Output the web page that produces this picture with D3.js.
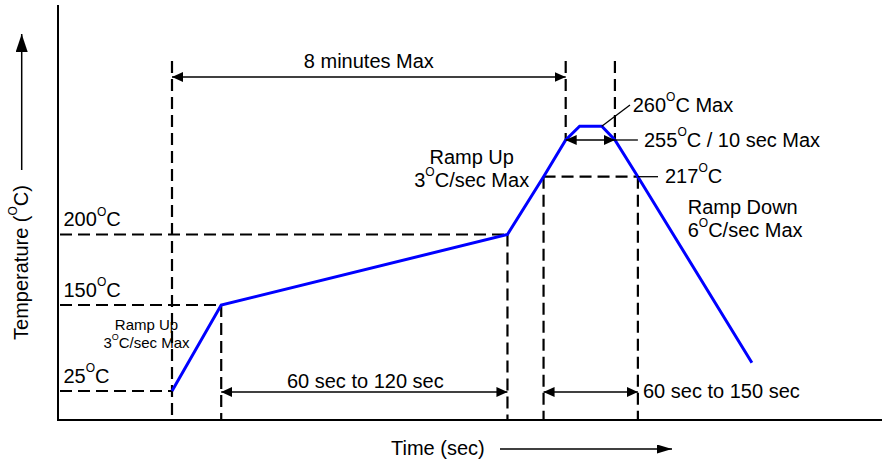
<!DOCTYPE html>
<html><head><meta charset="utf-8">
<script src="https://cdn.jsdelivr.net/npm/d3@7"></script>
<style>
body{margin:0;background:#fff}
svg{display:block}
text{font-family:"Liberation Sans",Arial,Helvetica,sans-serif;fill:#000}
</style>
</head><body>
<svg id="c" width="882" height="463"></svg>
<script>
// ---- data (schematic reflow profile) ----
const profileTime = [0, 60, 409, 453, 480, 497, 524, 540, 568, 707];   // s (schematic)
const profileTemp = [25, 150, 200, 217, 255, 260, 260, 255, 217, 66];  // °C
const tempKeys    = [25, 150, 200, 217, 255, 260];                     // schematic temperature breakpoints
const tickTemps   = [25, 150, 200];                                    // labelled levels on the left
const totalTime   = 480;                                               // 8 minutes
const preheatSpan = [60, 409];
const liquidSpan  = [453, 568];
const peakSpan    = [480, 540];
const peakLeader  = 524;

// ---- layout ----
const W = 882, H = 463;
const axisX = 58, axisY = 420, axisTop = 5;
const guideTop = 61, topArrowY = 77;

const svg = d3.select("#c");

const x = d3.scaleLinear().domain([0, totalTime]).range([172, 565.7]);
// schematic (not to scale) temperature axis -> polylinear scale
const y = d3.scaleLinear().domain(tempKeys).range([391, 305, 234.5, 176.7, 140, 126.3]);

// markers
const defs = svg.append("defs");
defs.append("marker").attr("id","ah")
  .attr("viewBox","0 0 11 10").attr("refX",11).attr("refY",5)
  .attr("markerWidth",11).attr("markerHeight",10)
  .attr("markerUnits","userSpaceOnUse").attr("orient","auto-start-reverse")
  .append("path").attr("d","M0,0L11,5L0,10Z").attr("fill","#000");
defs.append("marker").attr("id","ahBig")
  .attr("viewBox","0 0 18 12").attr("refX",18).attr("refY",6)
  .attr("markerWidth",18).attr("markerHeight",12)
  .attr("markerUnits","userSpaceOnUse").attr("orient","auto")
  .append("path").attr("d","M0,0L18,6L0,12Z").attr("fill","#000");
defs.append("marker").attr("id","ahT")
  .attr("viewBox","0 0 15 9").attr("refX",15).attr("refY",4.5)
  .attr("markerWidth",15).attr("markerHeight",9)
  .attr("markerUnits","userSpaceOnUse").attr("orient","auto")
  .append("path").attr("d","M0,0L15,4.5L0,9Z").attr("fill","#000");

function line(x1,y1,x2,y2,opts={}) {
  const l = svg.append("line").attr("x1",x1).attr("y1",y1).attr("x2",x2).attr("y2",y2)
    .attr("stroke", opts.color || "#000").attr("stroke-width", opts.w || 1.3);
  if (opts.dash) l.attr("stroke-dasharray", opts.dash);
  if (opts.start) l.attr("marker-start", "url(#"+opts.start+")");
  if (opts.end) l.attr("marker-end", "url(#"+opts.end+")");
  return l;
}
function supText(px, py, pre, post, size, anchor) {
  const t = svg.append("text").attr("x",px).attr("y",py)
    .attr("font-size",size).attr("text-anchor",anchor||"start");
  t.append("tspan").text(pre);
  const s = size*0.6, up = size*0.53;
  t.append("tspan").attr("font-size",s).attr("dy",-up).text("O");
  t.append("tspan").attr("dy",up).text(post);
  return t;
}

const dash = "12,6";
const dw = 2.2;

// ---- axes frame ----
line(axisX, axisTop, axisX, axisY, {w:2});
line(axisX-1, axisY, W, axisY, {w:2});

// ---- dashed guides ----
tickTemps.forEach(tp => {
  const endT = profileTime[profileTemp.indexOf(tp)];
  line(axisX+2, y(tp), x(endT), y(tp), {dash, w:dw});
});
line(x(liquidSpan[0]), y(217), x(liquidSpan[1]), y(217), {dash, w:dw});
line(x(0), guideTop, x(0), axisY, {dash, w:dw});
[preheatSpan[0], preheatSpan[1], liquidSpan[0], liquidSpan[1]].forEach(t => {
  const tp = profileTemp[profileTime.indexOf(t)];
  line(x(t), y(tp), x(t), axisY, {dash, w:dw});
});
[peakSpan[0], peakSpan[1]].forEach(t => {
  line(x(t), guideTop, x(t), y(255), {dash, w:dw});
});

// ---- profile ----
const pts = profileTime.map((t,i) => [x(t), y(profileTemp[i])]);
svg.append("path").attr("d", d3.line()(pts))
  .attr("fill","none").attr("stroke","#0000ff").attr("stroke-width",3)
  .attr("stroke-linejoin","miter");

// ---- dimension arrows ----
line(x(0), topArrowY, x(totalTime), topArrowY, {start:"ah", end:"ah"});
svg.append("text").attr("x",(x(0)+x(totalTime))/2).attr("y",68.3)
  .attr("font-size",20).attr("text-anchor","middle").text("8 minutes Max");

line(x(preheatSpan[0]), y(25)+1, x(preheatSpan[1]), y(25)+1, {start:"ah", end:"ah"});
svg.append("text").attr("x",(x(preheatSpan[0])+x(preheatSpan[1]))/2+1).attr("y",388.3)
  .attr("font-size",20).attr("text-anchor","middle").text("60 sec to 120 sec");

line(x(liquidSpan[0]), y(25)+1, x(liquidSpan[1]), y(25)+1, {start:"ah", end:"ah"});
svg.append("text").attr("x",643).attr("y",397.7).attr("font-size",20).text("60 sec to 150 sec");

line(x(peakSpan[0]), y(255), x(peakSpan[1]), y(255), {start:"ah", end:"ah"});
line(x(peakSpan[1]), y(255), x(liquidSpan[1]), y(255));
supText(644, 146.7, "255", "C / 10 sec Max", 20);

line(x(liquidSpan[1]), y(217), 658, y(217));
supText(665, 182.7, "217", "C", 20);

line(x(peakLeader), y(260), 630, 105);
supText(632.7, 111.7, "260", "C Max", 20);

// ---- slope notes ----
svg.append("text").attr("x",471.7).attr("y",164.3).attr("font-size",20)
  .attr("text-anchor","middle").text("Ramp Up");
supText(471.7, 186.7, "3", "C/sec Max", 20, "middle");

svg.append("text").attr("x",687.7).attr("y",214).attr("font-size",20).text("Ramp Down");
supText(687.7, 237.3, "6", "C/sec Max", 20);

svg.append("text").attr("x",146.5).attr("y",330).attr("font-size",15)
  .attr("text-anchor","middle").text("Ramp Up");
supText(146.5, 347.7, "3", "C/sec Max", 15, "middle");

// ---- level labels ----
tickTemps.forEach(tp => supText(63.5, y(tp)-8.3, String(tp), "C", 20));

// ---- axis titles ----
const yt = svg.append("text").attr("transform","translate(27.5,262.5) rotate(-90)")
  .attr("font-size",20).attr("text-anchor","middle");
yt.append("tspan").text("Temperature (");
yt.append("tspan").attr("font-size",12).attr("dy",-10.6).text("O");
yt.append("tspan").attr("dy",10.6).text("C)");
line(21.7, 170, 21.7, 34, {w:1.5, end:"ahBig"});

svg.append("text").attr("x",391).attr("y",455).attr("font-size",20).text("Time (sec)");
line(500, 449, 672, 449, {w:1.5, end:"ahT"});
</script>
</body></html>
